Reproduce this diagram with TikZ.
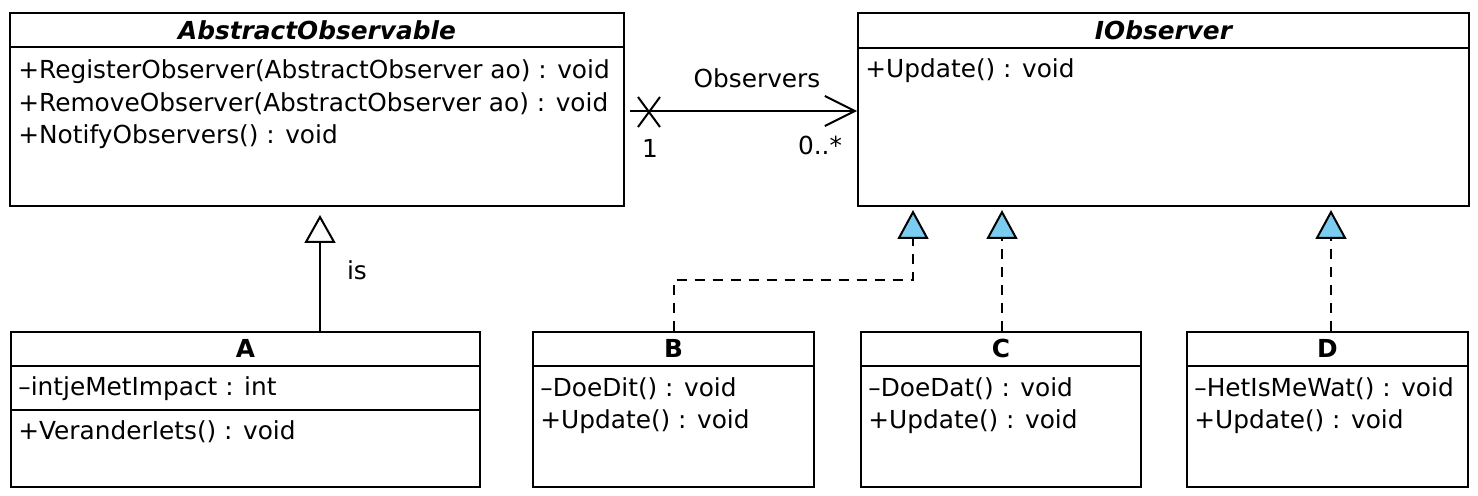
\documentclass[tikz,border=0pt]{standalone}
\usepackage{fontspec}
\setmainfont{DejaVu Sans}
\usetikzlibrary{arrows.meta,calc}
\definecolor{obsblue}{RGB}{122,204,240}
\begin{document}
\begin{tikzpicture}[x=0.5pt,y=-0.5pt,
  umlbox/.style={draw, line width=1pt, inner sep=0pt, anchor=north west},
  divider/.style={line width=1pt},
  txt/.style={anchor=west, inner sep=0pt, font=\fontsize{12.4}{14}\selectfont},
  hdr/.style={inner sep=0pt, font=\fontsize{12.4}{14}\selectfont\bfseries},
  ahdr/.style={inner sep=0pt, font=\fontsize{12.4}{14}\selectfont\bfseries\itshape},
  lbl/.style={inner sep=0pt, font=\fontsize{12.4}{14}\selectfont},
  gen/.style={line width=1pt, -{Triangle[open, length=14pt, width=15.5pt, line width=1pt]}, shorten >=4pt},
  real/.style={line width=1pt, dash pattern=on 5pt off 4pt, -{Triangle[fill=obsblue, length=14.5pt, width=15.5pt, line width=1pt]}, shorten >=1.5pt},
  assoc/.style={line width=1pt, -{Straight Barb[length=15pt, width=15pt, line width=1pt]}}
]
\useasboundingbox (0,0) rectangle (1478,496);

% boxes
\node[umlbox, minimum width=307pt, minimum height=96.5pt] (AO) at (9,12) {};
\node[umlbox, minimum width=305.5pt, minimum height=96.5pt] (IO) at (857,12) {};
\node[umlbox, minimum width=234.5pt, minimum height=77.5pt] (A) at (10,331) {};
\node[umlbox, minimum width=140.5pt, minimum height=77.5pt] (B) at (532,331) {};
\node[umlbox, minimum width=140pt, minimum height=77.5pt] (C) at (860,331) {};
\node[umlbox, minimum width=140.5pt, minimum height=77.5pt] (D) at (1186,331) {};

% dividers
\draw[divider] ($(AO.north west)+(0,35)$) -- ($(AO.north east)+(0,35)$);
\draw[divider] ($(IO.north west)+(0,36)$) -- ($(IO.north east)+(0,36)$);
\draw[divider] ($(A.north west)+(0,35)$) -- ($(A.north east)+(0,35)$);
\draw[divider] ($(A.north west)+(0,79)$) -- ($(A.north east)+(0,79)$);
\draw[divider] ($(B.north west)+(0,35)$) -- ($(B.north east)+(0,35)$);
\draw[divider] ($(C.north west)+(0,35)$) -- ($(C.north east)+(0,35)$);
\draw[divider] ($(D.north west)+(0,35)$) -- ($(D.north east)+(0,35)$);

% AbstractObservable texts
\node[ahdr] (aoh) at ($(AO.north)+(0,18)$) {AbstractObservable};
\node[txt] (ao1) at ($(AO.north west)+(9,60)$) {+RegisterObserver(AbstractObserver ao) : void};
\node[txt] (ao2) at ($(AO.north west)+(9,92)$) {+RemoveObserver(AbstractObserver ao) : void};
\node[txt] (ao3) at ($(AO.north west)+(9,125)$) {+NotifyObservers() : void};

% IObserver texts
\node[ahdr] (ioh) at ($(IO.north)+(0,18)$) {IObserver};
\node[txt] (io1) at ($(IO.north west)+(8,59)$) {+Update() : void};

% A texts
\node[hdr] (ah) at ($(A.north)+(0,17)$) {A};
\node[txt] (a1) at ($(A.north west)+(8,58)$) {–intjeMetImpact : int};
\node[txt] (a2) at ($(A.north west)+(8,101)$) {+VeranderIets() : void};

% B texts
\node[hdr] (bh) at ($(B.north)+(0,17)$) {B};
\node[txt] (b1) at ($(B.north west)+(8,58)$) {–DoeDit() : void};
\node[txt] (b2) at ($(B.north west)+(8,91)$) {+Update() : void};

% C texts
\node[hdr] (ch) at ($(C.north)+(0,17)$) {C};
\node[txt] (c1) at ($(C.north west)+(8,58)$) {–DoeDat() : void};
\node[txt] (c2) at ($(C.north west)+(8,91)$) {+Update() : void};

% D texts
\node[hdr] (dh) at ($(D.north)+(0,17)$) {D};
\node[txt] (d1) at ($(D.north west)+(8,58)$) {–HetIsMeWat() : void};
\node[txt] (d2) at ($(D.north west)+(8,91)$) {+Update() : void};

% generalization A -> AbstractObservable
\coordinate (ax) at (320,0);
\draw[gen] (A.north -| ax) -- (AO.south -| ax);
\node[lbl] (is) at (357,270) {is};

% association
\coordinate (ay) at (0,111);
\coordinate (astart) at (630,111);
\draw[assoc] (astart) -- (IO.west |- ay);
\coordinate (xc) at (649,112);
\draw[line width=1pt] ($(xc)+(-11,-15)$) -- ($(xc)+(11,15)$);
\draw[line width=1pt] ($(xc)+(11,-15)$) -- ($(xc)+(-11,15)$);
\node[lbl] (obs) at (757,78) {Observers};
\node[lbl] (m1) at (650,148) {1};
\node[lbl] (m2) at (820,145) {0..*};

% realizations
\coordinate (bturn) at (913,280);
\draw[real] (B.north) |- (bturn) -- (IO.south -| bturn);
\coordinate (cx) at (1002,0);
\draw[real] (C.north -| cx) -- (IO.south -| cx);
\coordinate (dx) at (1331,0);
\draw[real] (D.north -| dx) -- (IO.south -| dx);
\end{tikzpicture}
\end{document}
